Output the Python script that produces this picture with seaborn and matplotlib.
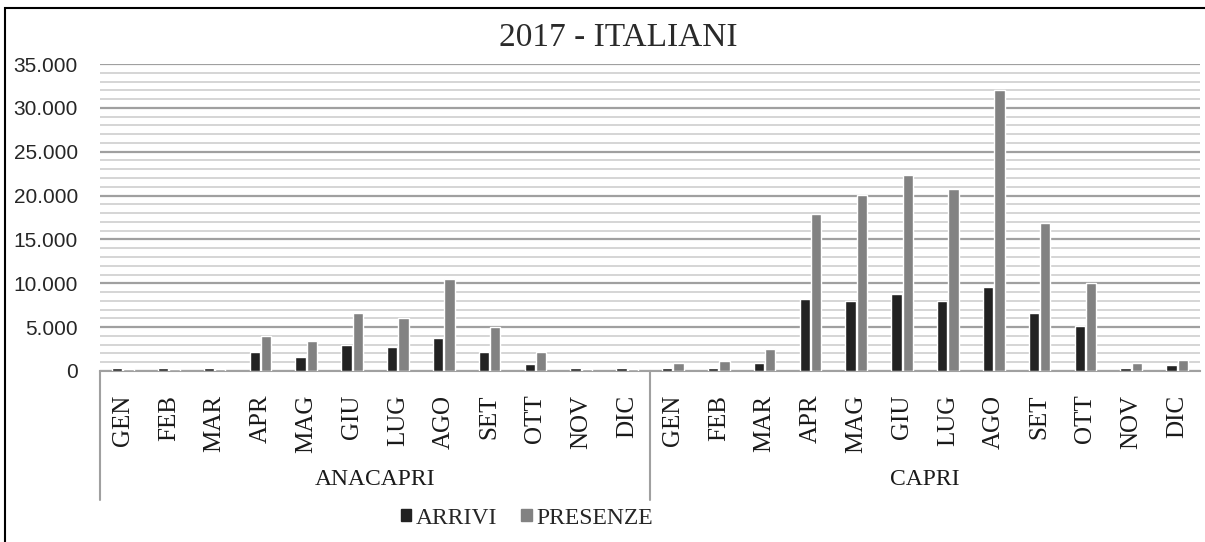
import numpy as np
import pandas as pd
import matplotlib
matplotlib.use('Agg')
import matplotlib.pyplot as plt
import seaborn as sns
from matplotlib.ticker import MultipleLocator, FuncFormatter
from matplotlib.patches import Rectangle, Patch
import matplotlib.transforms as mtransforms

# Data
mesi = ['GEN', 'FEB', 'MAR', 'APR', 'MAG', 'GIU', 'LUG', 'AGO', 'SET', 'OTT', 'NOV', 'DIC']
comuni = ['ANACAPRI', 'CAPRI']
anacapri_arrivi = [300, 300, 300, 2150, 1630, 2950, 2680, 3770, 2170, 830, 300, 300]
anacapri_presenze = [250, 250, 250, 4000, 3440, 6570, 6090, 10500, 4980, 2170, 270, 250]
capri_arrivi = [390, 390, 960, 8250, 7980, 8750, 7980, 9540, 6660, 5130, 390, 690]
capri_presenze = [960, 1140, 2470, 17950, 20070, 22350, 20720, 32000, 16840, 10000, 960, 1220]

rows = []
for comune, arr, pres in [('ANACAPRI', anacapri_arrivi, anacapri_presenze),
                          ('CAPRI', capri_arrivi, capri_presenze)]:
    for m, a, p in zip(mesi, arr, pres):
        rows.append({'slot': comune + '-' + m, 'serie': 'ARRIVI', 'valore': a})
        rows.append({'slot': comune + '-' + m, 'serie': 'PRESENZE', 'valore': p})
df = pd.DataFrame(rows)
order = [c + '-' + m for c in comuni for m in mesi]

sns.set_style('white')
plt.rcParams['font.family'] = ['Liberation Serif', 'DejaVu Serif']

colori = {'ARRIVI': '#222222', 'PRESENZE': '#828282'}

fig = plt.figure(figsize=(12.05, 5.42), dpi=100)
ax = fig.add_axes([100 / 1205, 1 - 371 / 542, 1100 / 1205, 307 / 542])

sns.barplot(data=df, x='slot', y='valore', hue='serie', order=order,
            palette=colori, width=0.5, gap=0.1, legend=False, ax=ax,
            saturation=1, zorder=3)

ax.set_ylim(0, 35000)
ax.set_xlim(-0.5, len(order) - 0.5)
ax.yaxis.set_major_locator(MultipleLocator(5000))
ax.yaxis.set_minor_locator(MultipleLocator(1000))
ax.yaxis.set_major_formatter(FuncFormatter(lambda v, p: f'{int(v):,}'.replace(',', '.')))
ax.grid(which='major', axis='y', color='#a0a0a0', lw=1.6, zorder=0)
ax.grid(which='minor', axis='y', color='#d2d2d2', lw=1.3, zorder=0)
ax.set_axisbelow(True)
for s in ['top', 'right', 'left']:
    ax.spines[s].set_visible(False)
ax.spines['bottom'].set_color('#a0a0a0')
ax.spines['bottom'].set_linewidth(1.5)

ax.set_xticks(range(len(order)))
ax.set_xticklabels(mesi * 2, rotation=90, fontsize=18, color='#1a1a1a')
ax.tick_params(axis='x', length=0, pad=17)
ax.tick_params(axis='y', length=0, pad=16, labelsize=15, labelcolor='#262626')
for lab in ax.get_yticklabels():
    lab.set_family(['Liberation Sans', 'DejaVu Sans'])
ax.set_xlabel('')
ax.set_ylabel('')

# group separators and labels below the axis
trans = mtransforms.blended_transform_factory(ax.transData, ax.transAxes)
for xs in [-0.5, 11.5]:
    ax.plot([xs, xs], [0, -0.42], color='#a0a0a0', lw=1.5, transform=trans, clip_on=False)
for i, c in enumerate(comuni):
    ax.text(i * 12 + 5.5, -0.355, c, transform=trans, ha='center', va='center',
            fontsize=17, color='#1a1a1a')

fig.text(618 / 1205, 1 - 38 / 542, '2017 - ITALIANI', ha='center', va='center',
         fontsize=24, color='#2a2a2a')

handles = [Patch(color=colori['ARRIVI'], label='ARRIVI'),
           Patch(color=colori['PRESENZE'], label='PRESENZE')]
fig.legend(handles=handles, loc='center', bbox_to_anchor=(527 / 1205, 1 - 518 / 542),
           ncol=2, frameon=False, fontsize=17, handlelength=0.45, handleheight=0.45,
           handletextpad=0.2, columnspacing=1.0, borderpad=0)

# outer frame
fig.patches.append(Rectangle((5 / 1205, -0.1), 1.0, 1.1 - 8 / 542,
                             transform=fig.transFigure, fill=False,
                             edgecolor='black', lw=1.5))

fig.savefig('out.png', dpi=100)
